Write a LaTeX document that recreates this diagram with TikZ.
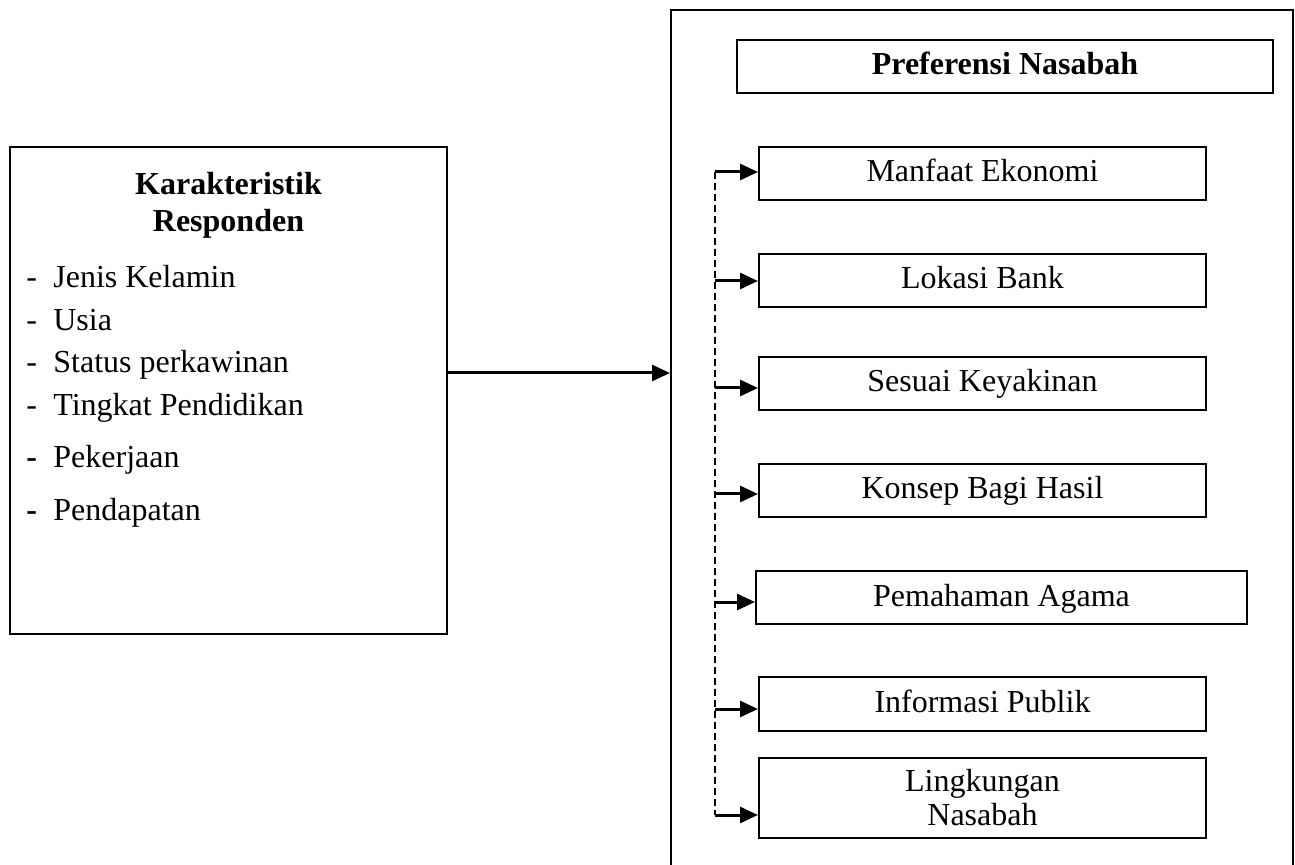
\documentclass[tikz,border=0pt]{standalone}
\usepackage{fontspec}
\setmainfont{Liberation Serif}
\usetikzlibrary{arrows.meta, positioning}

\begin{document}
\begin{tikzpicture}[
  x=0.5pt, y=-0.5pt,
  txt/.style={font=\fontsize{16pt}{17pt}\selectfont},
  box/.style={draw, line width=1pt, inner sep=0pt, txt},
  opt/.style={box, minimum width=223.5pt, minimum height=26.5pt, text height=11pt, text depth=2.5pt},
  head/.style={anchor=base, inner sep=0pt, txt},
  item/.style={anchor=base west, inner sep=0pt, txt},
  fl/.style={-{Triangle[length=9pt, width=8pt]}, line width=1.5pt},
  bus/.style={dash pattern=on 3.5pt off 2pt, line width=0.8pt}
]
\useasboundingbox (0,0) rectangle (1295,865);
\node[box, minimum width=218.5pt, minimum height=243.5pt] (kr) at (228.5,390.5) {};
\node[head] (kt1) at (228.5,195) {\bfseries Karakteristik};
\node[head] (kt2) at (228.5,232) {\bfseries Responden};
\node[item] (k1) at (26,288) {\makebox[13.5pt][l]{-}Jenis Kelamin};
\node[item] (k2) at (26,331) {\makebox[13.5pt][l]{-}Usia};
\node[item] (k3) at (26,373) {\makebox[13.5pt][l]{-}Status perkawinan};
\node[item] (k4) at (26,416) {\makebox[13.5pt][l]{-}Tingkat Pendidikan};
\node[item] (k5) at (26,468) {\makebox[13.5pt][l]{\bfseries -}Pekerjaan};
\node[item] (k6) at (26,521) {\makebox[13.5pt][l]{\bfseries -}Pendapatan};
\node[box, minimum width=311pt, minimum height=430pt] (frame) at (982,440) {};
\node[opt, minimum width=268pt] (pn) at (1005,66.5) {\bfseries Preferensi Nasabah};
\node[opt] (m1) at (982.5,173.5) {Manfaat Ekonomi};
\node[opt] (m2) at (982.5,280.5) {Lokasi Bank};
\node[opt] (m3) at (982.5,383.5) {Sesuai Keyakinan};
\node[opt] (m4) at (982.5,490.5) {Konsep Bagi Hasil};
\node[opt, minimum width=245.5pt] (m5) at (1001.5,597.5) {Pemahaman Agama};
\node[opt, minimum height=27pt] (m6) at (982.5,704) {Informasi Publik};
\node[box, minimum width=223.5pt, minimum height=40pt, align=center] (m7) at (982.5,798) {Lingkungan\\Nasabah};
\coordinate (mid) at (560,373);
\coordinate (b1) at (715,172); \coordinate (b2) at (715,281); \coordinate (b3) at (715,388);
\coordinate (b4) at (715,494); \coordinate (b5) at (715,602); \coordinate (b6) at (715,709);
\coordinate (b7) at (715,815);
\draw[fl] (kr.east |- mid) -- (frame.west |- mid);
\draw[bus] (b1) -- (b7);
\draw[fl] (b1) -- (b1 -| m1.west); \draw[fl] (b2) -- (b2 -| m2.west); \draw[fl] (b3) -- (b3 -| m3.west);
\draw[fl] (b4) -- (b4 -| m4.west); \draw[fl] (b5) -- (b5 -| m5.west); \draw[fl] (b6) -- (b6 -| m6.west);
\draw[fl] (b7) -- (b7 -| m7.west);
\end{tikzpicture}
\end{document}
